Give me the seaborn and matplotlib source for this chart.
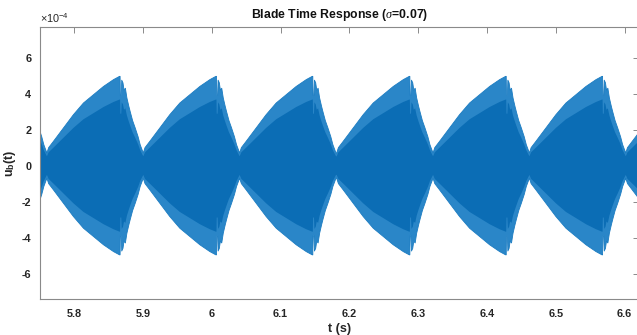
import numpy as np
import pandas as pd
import matplotlib
matplotlib.use("Agg")
import matplotlib.pyplot as plt
from matplotlib.ticker import FuncFormatter
import seaborn as sns

# Times (s) at which the blade response envelope peaks, one per forcing cycle
peak_times = [5.726, 5.866, 6.006, 6.146, 6.287, 6.427, 6.567, 6.707]

# Envelope build-up before each peak: offset from the peak (s), amplitude (x1e-4)
rise_dt = [-0.1055, -0.103, -0.096, -0.0815, -0.067, -0.0524, -0.0378, -0.0233, -0.0087, 0.0]
rise_amp = [0.70, 1.00, 1.35, 2.09, 2.83, 3.48, 3.94, 4.40, 4.78, 4.96]

# Ring-down after each peak: offset from the peak (s), amplitude (x1e-4)
fall_dt = [0.0008, 0.0012, 0.0025, 0.0032, 0.005, 0.0065, 0.0085, 0.0107,
           0.0135, 0.0155, 0.019, 0.0228, 0.027, 0.030, 0.0345]
fall_amp = [4.96, 3.90, 3.90, 4.75, 4.60, 4.20, 4.30, 3.76,
            3.30, 3.00, 2.50, 2.09, 1.60, 1.16, 0.70]

x_ticks = [5.8, 5.9, 6.0, 6.1, 6.2, 6.3, 6.4, 6.5, 6.6]
y_ticks = [-6, -4, -2, 0, 2, 4, 6]

# Assemble the envelope of u_b(t)
t_vals, a_vals = [], []
for p in peak_times:
    for dt, a in zip(rise_dt, rise_amp):
        t_vals.append(p + dt)
        a_vals.append(a)
    for dt, a in zip(fall_dt, fall_amp):
        t_vals.append(p + dt)
        a_vals.append(a)
env = pd.DataFrame({"t": t_vals, "upper": np.array(a_vals) * 1e-4})
env["lower"] = -env["upper"]

sns.set_theme(style="white")
plt.rcParams["font.family"] = ["Liberation Sans", "DejaVu Sans"]
plt.rcParams["axes.unicode_minus"] = False
plt.rcParams["mathtext.fontset"] = "custom"
plt.rcParams["mathtext.rm"] = "Liberation Sans"
plt.rcParams["mathtext.it"] = "Liberation Serif:italic"
plt.rcParams["mathtext.bf"] = "Liberation Sans:bold"

W, H = 637, 335
fig = plt.figure(figsize=(W / 100, H / 100), dpi=100)
left, right, top, bottom = 39.7, 638.5, 26.7, 299.3
ax = fig.add_axes([left / W, (H - bottom) / H, (right - left) / W, (bottom - top) / H])

line_blue = "#1b7cc2"
fringe = "#2a86c8"
core = "#0b6db5"

ax.fill_between(env["t"], env["lower"], env["upper"], color=fringe, lw=0)
core_ratio = 0.74
ax.fill_between(env["t"], core_ratio * env["lower"], core_ratio * env["upper"],
                color=core, lw=0)
sns.lineplot(data=env, x="t", y="upper", ax=ax, color=line_blue, lw=0.6,
             sort=False, estimator=None)
sns.lineplot(data=env, x="t", y="lower", ax=ax, color=line_blue, lw=0.6,
             sort=False, estimator=None)

ax.set_xlim(5.75, 6.62)
ax.set_ylim(-7.43e-4, 7.72e-4)
ax.set_xticks(x_ticks)
ax.set_yticks([v * 1e-4 for v in y_ticks])
ax.xaxis.set_major_formatter(FuncFormatter(lambda v, _: f"{v:g}"))
ax.yaxis.set_major_formatter(FuncFormatter(lambda v, _: f"{v * 1e4:.0f}"))

axis_grey = "#8a8a8a"
text_dark = "#262626"
for s in ax.spines.values():
    s.set_color(axis_grey)
    s.set_linewidth(0.8)
ax.tick_params(direction="in", length=4, width=0.7, top=True, right=True,
               color=axis_grey, labelcolor=text_dark, labelsize=7.8)
ax.tick_params(axis="x", pad=7)
ax.tick_params(axis="y", pad=6)
for lab in ax.get_xticklabels() + ax.get_yticklabels():
    lab.set_fontweight("bold")

ax.set_title(r"Blade Time Response ($\sigma$=0.07)", fontsize=8.8, fontweight="bold",
             color="#111111", pad=6)
ax.set_xlabel("t (s)", fontsize=9, fontweight="bold", color=text_dark, labelpad=3)
ax.set_ylabel(r"u$_\mathbf{b}$(t)", fontsize=9, fontweight="bold", color=text_dark)
ax.yaxis.set_label_coords(-0.037, 0.5)

fig.text(40 / W, (H - 23) / H, r"$\times$10$^{-4}$", fontsize=7.8, color=text_dark,
         ha="left", va="baseline")

fig.savefig("out.png", dpi=100)
